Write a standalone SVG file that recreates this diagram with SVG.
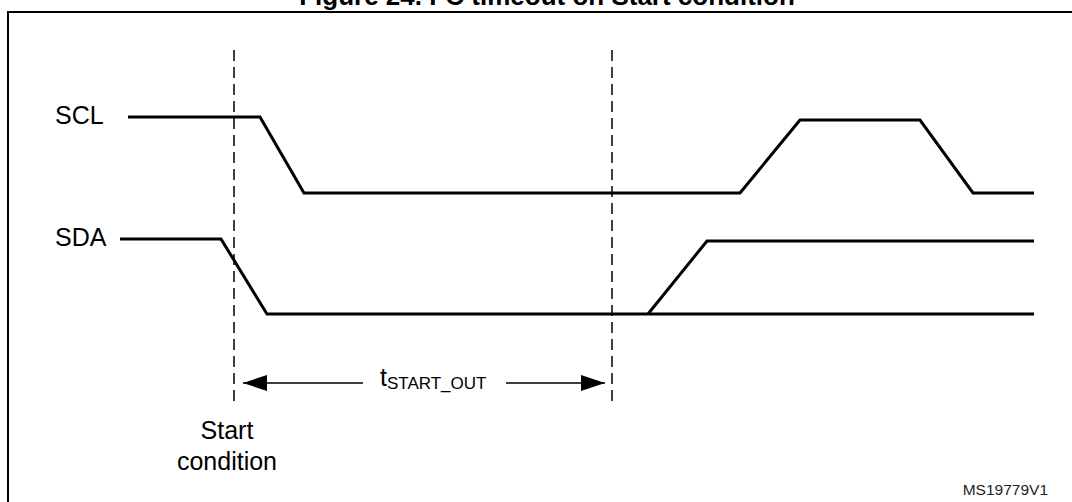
<svg xmlns="http://www.w3.org/2000/svg" width="1072" height="502" viewBox="0 0 1072 502">
  <style>
    .sig { fill: none; stroke: #000; stroke-width: 3; stroke-linejoin: miter; }
    .dash { fill: none; stroke: #000; stroke-width: 1.5; stroke-dasharray: 11 6; }
    .lbl { font-family: "Liberation Sans", Arial, sans-serif; font-size: 25px; fill: #000; }
    .arr { fill: none; stroke: #000; stroke-width: 1.5; }
  </style>
  <defs>
    <marker id="ah" viewBox="0 0 24 16" refX="24" refY="8" markerWidth="24" markerHeight="16" markerUnits="userSpaceOnUse" orient="auto-start-reverse">
      <path d="M0,0 L24,8 L0,16 Z" fill="#000"/>
    </marker>
  </defs>
  <rect width="1072" height="502" fill="#fff"/>
  <text x="547" y="5" text-anchor="middle" font-family="Liberation Sans, Arial, sans-serif" font-weight="bold" font-size="26">Figure 24. I<tspan font-size="16" dy="-10">2</tspan><tspan dy="10">C timeout on Start condition</tspan></text>
  <path d="M8,1080 V12 H1100" fill="none" stroke="#000" stroke-width="2"/>

  <g id="scl">
    <text class="lbl" x="55" y="124">SCL</text>
    <polyline class="sig" points="128,117 260,117 304,193 740,193 800,120 920,120 973,193 1034,193"/>
  </g>
  <g id="sda">
    <text class="lbl" x="55" y="246">SDA</text>
    <polyline class="sig" points="120,239 221,239 267,314 1034,314"/>
    <polyline class="sig" points="648,314 707,241 1034,241"/>
  </g>
  <g id="markers">
    <line class="dash" x1="234" y1="50" x2="234" y2="406"/>
    <line class="dash" x1="612" y1="50" x2="612" y2="406"/>
  </g>
  <g id="connectors">
    <line class="arr" x1="363" y1="383" x2="243" y2="383" marker-end="url(#ah)"/>
    <line class="arr" x1="506" y1="383" x2="605" y2="383" marker-end="url(#ah)"/>
  </g>
  <g id="tstart">
    <text class="lbl" x="380" y="386" font-size="25">t<tspan font-size="17" dy="3">START_OUT</tspan></text>
  </g>
  <g id="start-cond">
    <text class="lbl" x="227" y="439" text-anchor="middle">Start</text>
    <text class="lbl" x="227" y="470" text-anchor="middle">condition</text>
  </g>
  <text x="1048" y="495" text-anchor="end" font-family="Liberation Sans, Arial, sans-serif" font-size="15.5" fill="#222">MS19779V1</text>
</svg>
